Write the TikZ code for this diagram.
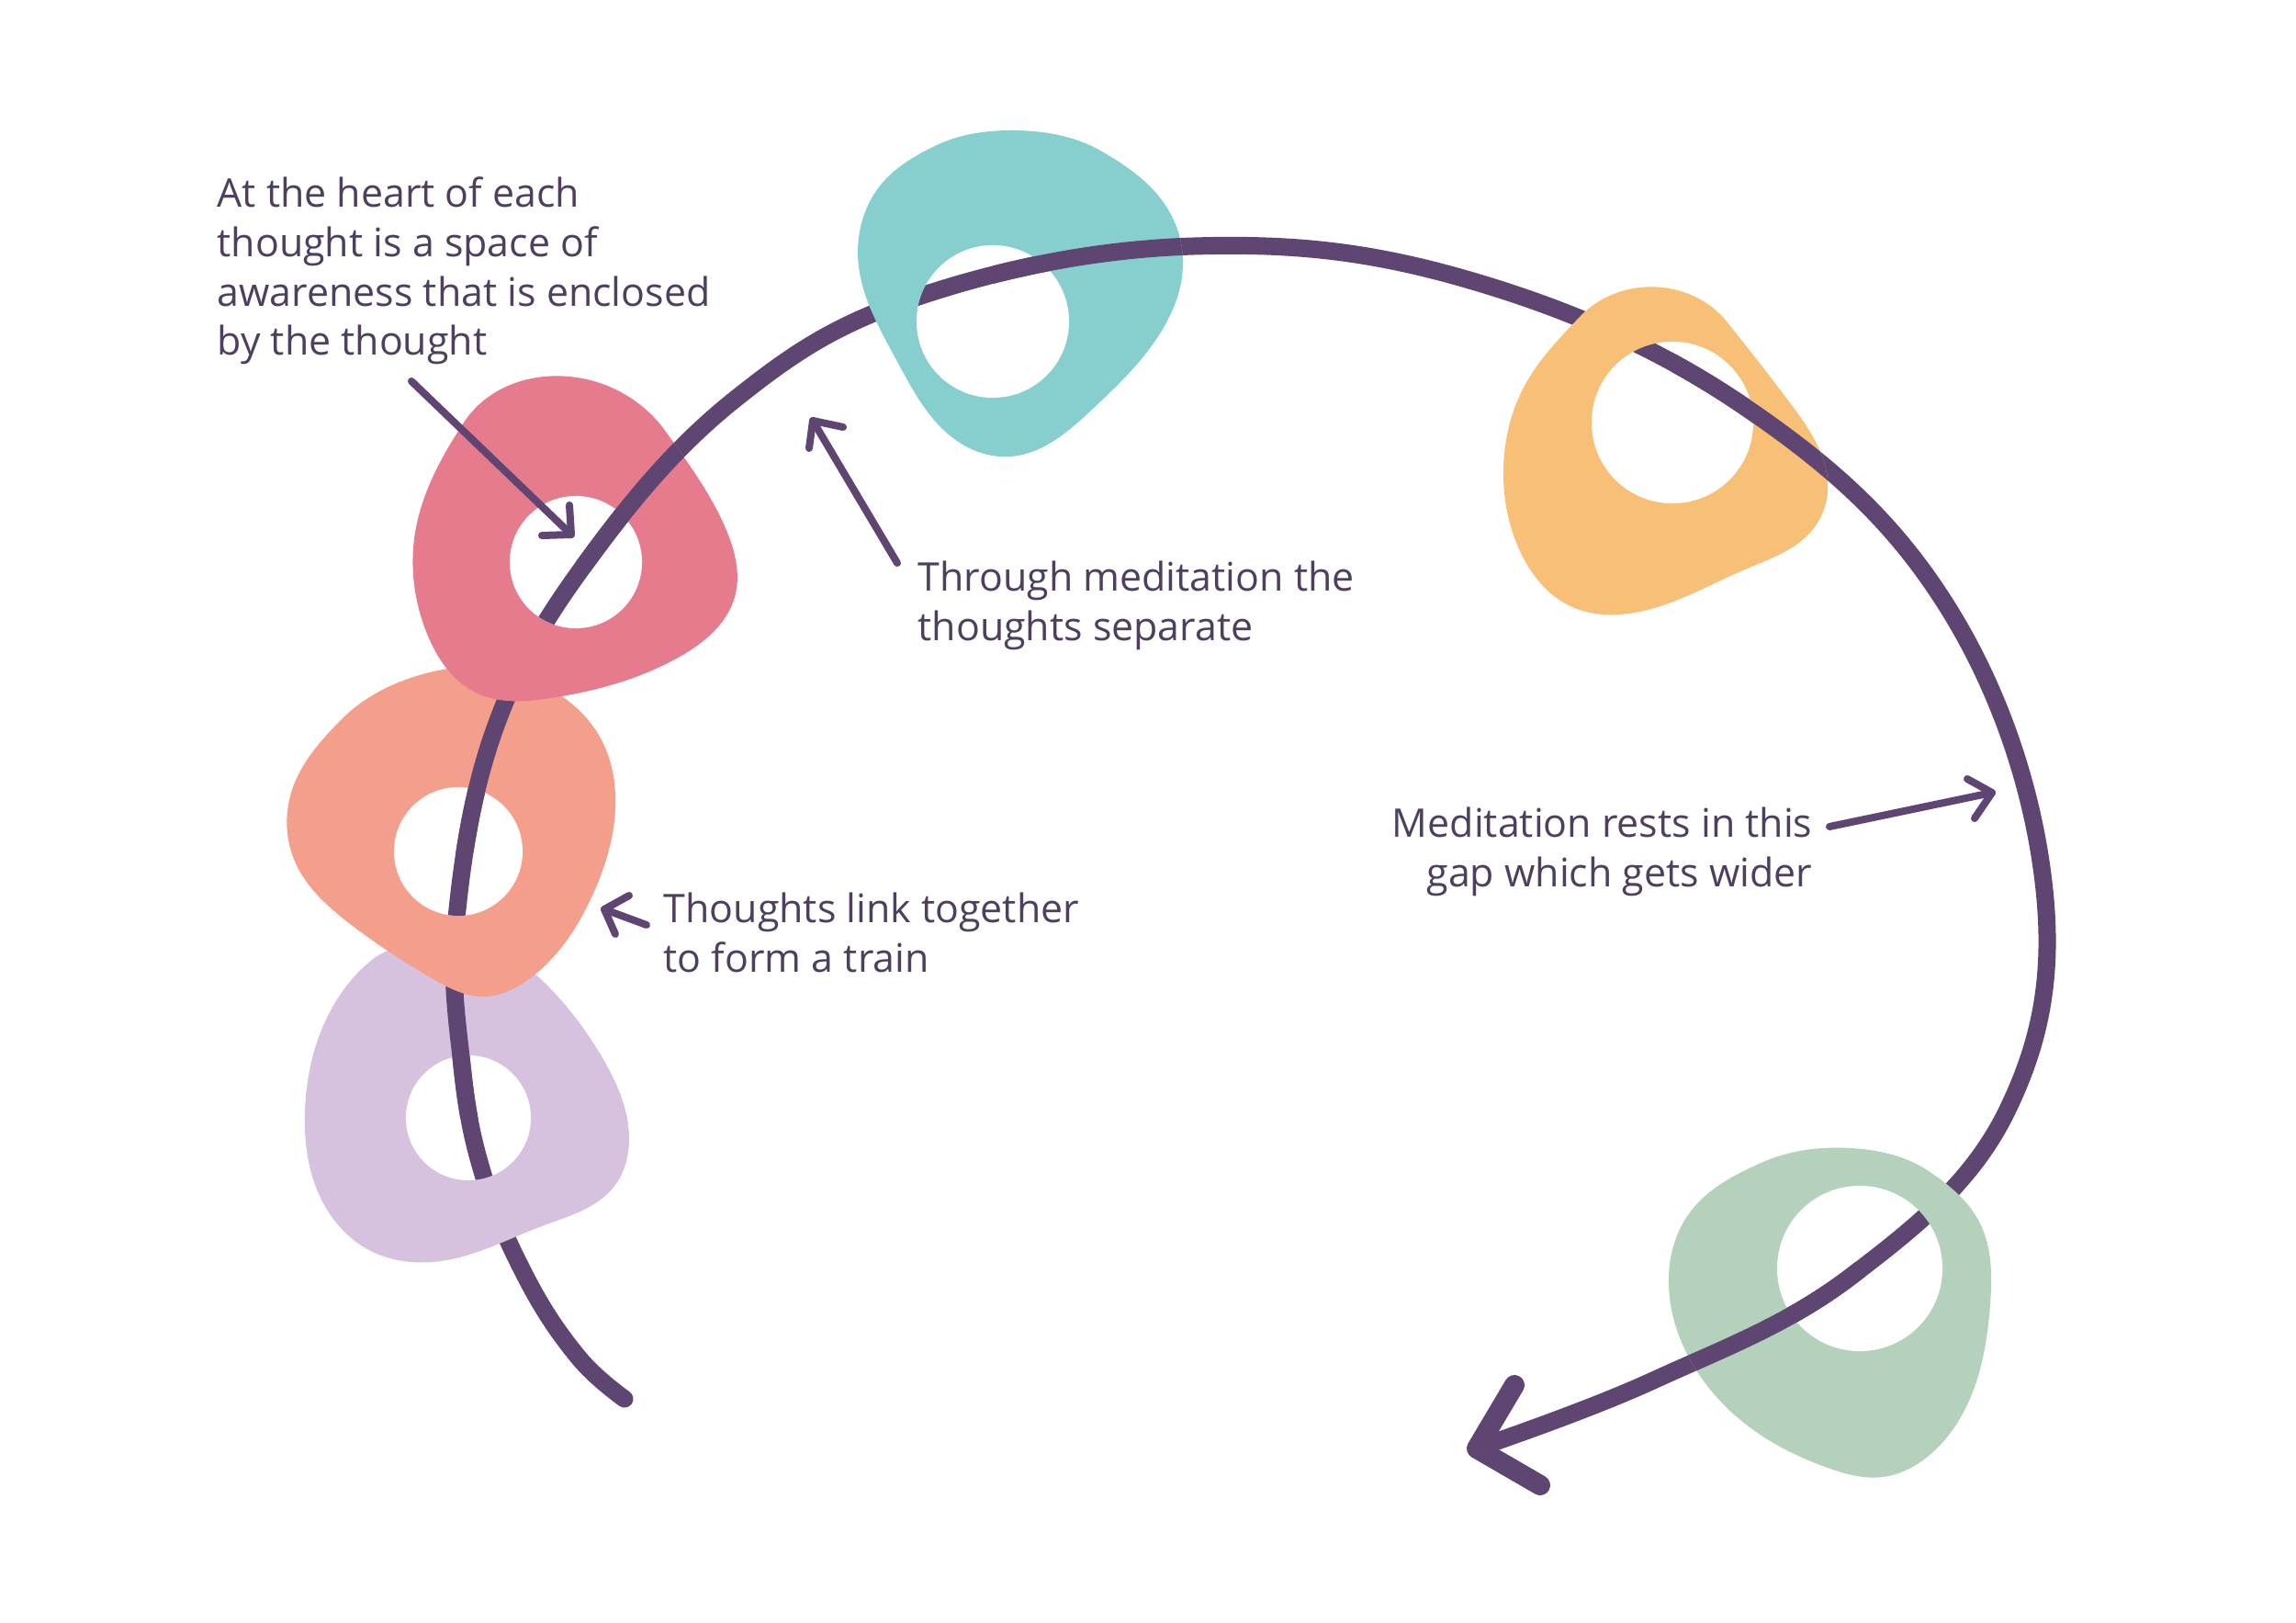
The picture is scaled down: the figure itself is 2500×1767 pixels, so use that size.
\documentclass[tikz,border=0pt]{standalone}
\usepackage{fontspec}
\setmainfont{Open Sans}
\usetikzlibrary{hobby}
\definecolor{arcc}{HTML}{5F4672}
\definecolor{txtc}{HTML}{4F3F5F}
\definecolor{pinkc}{HTML}{E57B8C}
\definecolor{salmonc}{HTML}{F49E8C}
\definecolor{lavc}{HTML}{D6C2DE}
\definecolor{tealc}{HTML}{87CFCE}
\definecolor{orangec}{HTML}{F8C077}
\definecolor{greenc}{HTML}{B3D1BB}
\newcommand{\mainarc}{plot[smooth, tension=0.65] coordinates {(680,1523) (630,1478) (575,1395) (527,1282) (503,1160) (497,1000) (540,790) (640,610) (800,435) (1000,323) (1300,268) (1600,305) (1900,443) (2120,660) (2225,960) (2185,1210) (2015,1390) (1800,1503) (1610,1576)}}
\newcommand{\bPink}{(620,410) .. (725,470) .. (790,575) .. (800,650) .. (740,715) .. (600,760) .. (520,755) .. (465,690) .. (452,580) .. (505,460)}
\newcommand{\bSalmon}{(477,730) .. (583,740) .. (650,797) .. (670,880) .. (645,975) .. (570,1070) .. (530,1085) .. (470,1065) .. (380,1005) .. (322,940) .. (318,860) .. (370,785)}
\newcommand{\bLav}{(467,1027) .. (580,1058) .. (655,1150) .. (685,1240) .. (670,1290) .. (590,1335) .. (480,1373) .. (400,1360) .. (345,1295) .. (332,1210) .. (355,1110) .. (405,1045)}
\newcommand{\bTeal}{(1100,142) .. (1200,165) .. (1270,225) .. (1288,290) .. (1265,360) .. (1190,445) .. (1100,497) .. (1050,485) .. (975,390) .. (935,290) .. (960,200) .. (1020,158)}
\newcommand{\bOrange}{(1810,313) .. (1880,350) .. (1950,440) .. (1990,535) .. (1975,575) .. (1900,620) .. (1780,667) .. (1710,660) .. (1655,600) .. (1637,510) .. (1660,420) .. (1720,345)}
\newcommand{\bGreen}{(2015,1250) .. (2100,1275) .. (2155,1330) .. (2167,1420) .. (2150,1510) .. (2100,1585) .. (2050,1608) .. (1990,1598) .. (1900,1550) .. (1840,1480) .. (1817,1400) .. (1840,1320) .. (1920,1265)}
\begin{document}
\begin{tikzpicture}[x=0.01cm, y=-0.01cm,
  blob/.style={use Hobby shortcut, closed=true},
  mainline/.style={draw=arcc, line width=0.19cm, line cap=round, line join=round},
  headline/.style={draw=arcc, line width=0.22cm, line cap=round, line join=round},
  annot/.style={draw=arcc, line width=0.08cm, line cap=round, line join=round},
  lbl/.style={inner sep=0pt, text=txtc, font=\fontsize{12.2pt}{15.3pt}\selectfont}]
\fill[white] (0,0) rectangle (2500,1767);
\useasboundingbox (0,0) rectangle (2500,1767);
% full arc (goes under the blobs)
\draw[mainline] \mainarc;
% lavender
\fill[lavc, blob] \bLav;
\fill[white] (510,1217) circle[radius=0.68cm];
\begin{scope}
  \clip (510,1217) circle[radius=0.68cm];
  \draw[mainline] \mainarc;
\end{scope}
\begin{scope}
  \clip[blob] \bLav;
  \clip (0,0) rectangle (2500,1217);
  \draw[mainline] \mainarc;
\end{scope}
% salmon
\fill[salmonc, blob] \bSalmon;
\fill[white] (499,927) circle[radius=0.70cm];
\begin{scope}
  \clip (499,927) circle[radius=0.70cm];
  \draw[mainline] \mainarc;
\end{scope}
\begin{scope}
  \clip[blob] \bSalmon;
  \clip (0,0) rectangle (2500,927);
  \draw[mainline] \mainarc;
\end{scope}
% pink
\fill[pinkc, blob] \bPink;
\fill[white] (627,612) circle[radius=0.72cm];
\begin{scope}
  \clip (627,612) circle[radius=0.72cm];
  \draw[mainline] \mainarc;
\end{scope}
\begin{scope}
  \clip[blob] \bPink;
  \clip (1120,953) -- (1461,460) -- (475,-222) -- (134,271) -- cycle;
  \draw[mainline] \mainarc;
\end{scope}
% teal
\fill[tealc, blob] \bTeal;
\fill[white] (1081,350) circle[radius=0.83cm];
\begin{scope}
  \clip (1081,350) circle[radius=0.83cm];
  \draw[mainline] \mainarc;
\end{scope}
\begin{scope}
  \clip[blob] \bTeal;
  \clip (1081,0) rectangle (2500,1767);
  \draw[mainline] \mainarc;
\end{scope}
% orange
\fill[orangec, blob] \bOrange;
\fill[white] (1821,460) circle[radius=0.88cm];
\begin{scope}
  \clip (1821,460) circle[radius=0.88cm];
  \draw[mainline] \mainarc;
\end{scope}
\begin{scope}
  \clip[blob] \bOrange;
  \clip (1821,0) rectangle (2500,1767);
  \draw[mainline] \mainarc;
\end{scope}
% green
\fill[greenc, blob] \bGreen;
\fill[white] (2025,1381) circle[radius=0.90cm];
\begin{scope}
  \clip (2025,1381) circle[radius=0.90cm];
  \draw[mainline] \mainarc;
\end{scope}
\begin{scope}
  \clip[blob] \bGreen;
  \clip (2385,1861) -- (1905,2221) -- (1185,1261) -- (1665,901) -- cycle;
  \draw[mainline] \mainarc;
\end{scope}
% main arrow head
\coordinate (endtip) at (1608,1577);
\coordinate (endb1) at (1649,1508);
\coordinate (endb2) at (1677,1617);
\draw[headline] (endb1) -- (endtip) -- (endb2);
% labels (base anchor = baseline of last line)
\node[lbl, align=left, anchor=base west] (heart) at (236,387) {At the heart of each\\thought is a space of\\awareness that is enclosed\\by the thought};
\node[lbl, align=left, anchor=base west] (separate) at (999,697) {Through meditation the\\thoughts separate};
\node[lbl, align=left, anchor=base west] (train) at (722,1058) {Thoughts link together\\to form a train};
\node[lbl, align=right, anchor=base east] (gap) at (1974,965) {Meditation rests in this\\gap which gets wider};
% annotation arrows
\coordinate (a1tail) at (448,415);
\coordinate (a1tip) at (622,582);
\coordinate (a1b1) at (620,550);
\coordinate (a1b2) at (590,583);
\draw[annot] (a1tail) -- (a1tip);
\draw[annot] (a1b1) -- (a1tip) -- (a1b2);
\coordinate (a2tail) at (977,613);
\coordinate (a2tip) at (885,458);
\coordinate (a2b1) at (918,465);
\coordinate (a2b2) at (881,488);
\draw[annot] (a2tail) -- (a2tip);
\draw[annot] (a2b1) -- (a2tip) -- (a2b2);
\coordinate (a3tail) at (704,1007);
\coordinate (a3tip) at (658,990);
\coordinate (a3b1) at (685,975);
\coordinate (a3b2) at (670,1017);
\draw[annot] (a3tail) -- (a3tip);
\draw[annot] (a3b1) -- (a3tip) -- (a3b2);
\coordinate (a4tail) at (1992,900);
\coordinate (a4tip) at (2169,863);
\coordinate (a4b1) at (2142,848);
\coordinate (a4b2) at (2150,891);
\draw[annot] (a4tail) -- (a4tip);
\draw[annot] (a4b1) -- (a4tip) -- (a4b2);
\end{tikzpicture}
\end{document}
